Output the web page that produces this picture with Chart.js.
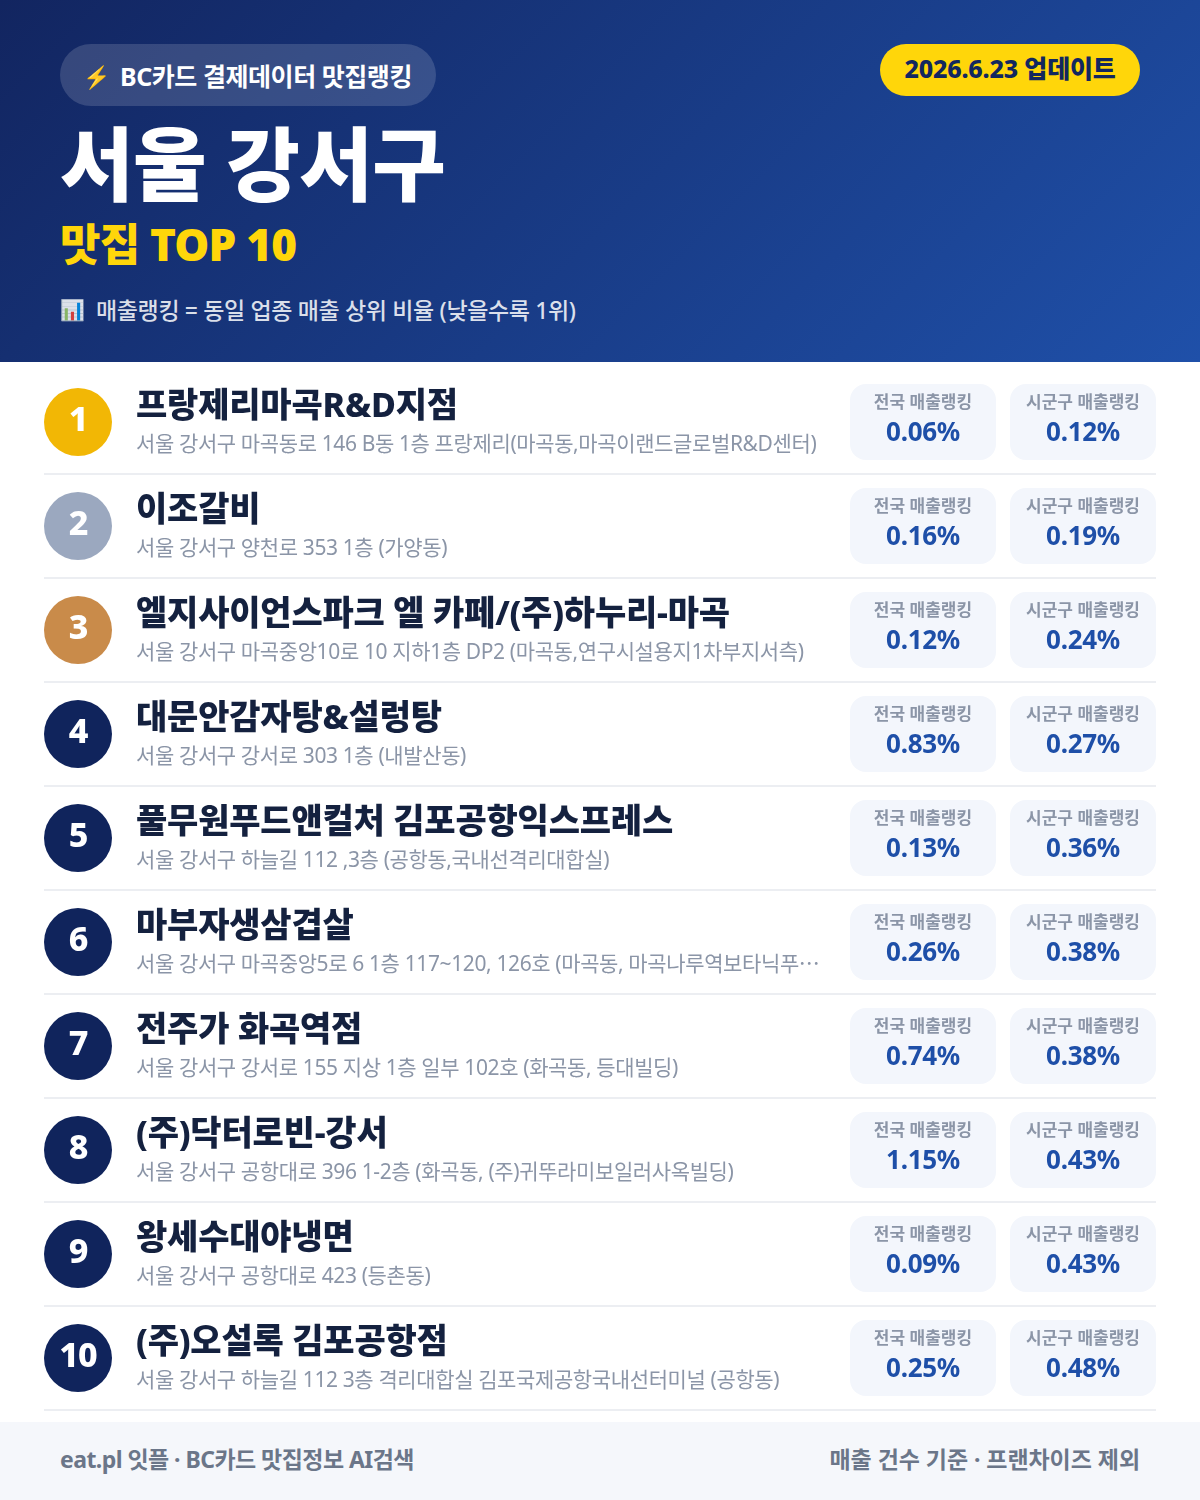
<!DOCTYPE html>
<html lang="ko">
<head>
<meta charset="utf-8">
<title>서울 강서구 맛집 TOP 10</title>
<script src="https://cdn.jsdelivr.net/npm/chart.js@4"></script>
<style>
  * { box-sizing: border-box; }
  html, body { margin: 0; background: #fff; }
  body { width: 1200px; height: 1500px; position: relative; overflow: hidden; font-family: "Noto Sans", "Noto Sans CJK KR", sans-serif; }
  header { position: absolute; left: 0; top: 0; width: 1200px; height: 362px; background: linear-gradient(135deg, #122560 0%, #1f50a9 100%); }
  header div { position: absolute; white-space: nowrap; }
  .badge { left: 60px; top: 44px; width: 376px; height: 62px; border-radius: 31px; background: rgba(255,255,255,.15); color: #fff; font-size: 25px; font-weight: 700; line-height: 64px; letter-spacing: -.45px; }
  .badge span { position: absolute; white-space: nowrap; }
  .date { left: 880px; top: 44px; width: 260px; height: 52px; border-radius: 26px; background: #ffd60a; color: #12275f; font-size: 25px; font-weight: 800; line-height: 48px; text-align: center; letter-spacing: -.2px; }
  .title { left: 60px; top: 103px; color: #fff; font-size: 80px; font-weight: 900; line-height: 120px; letter-spacing: -.6px; }
  .sub { left: 60px; top: 212px; color: #ffd60a; font-size: 44px; font-weight: 900; line-height: 64px; letter-spacing: -.8px; }
  .note { left: 60px; top: 292px; color: rgba(255,255,255,.85); font-size: 23px; font-weight: 500; line-height: 36px; letter-spacing: -.35px; }
  .note span { position: absolute; white-space: nowrap; }
  #list { position: absolute; left: 0; top: 362px; width: 1200px; height: 1060px; }
  footer { position: absolute; left: 0; top: 1422px; width: 1200px; height: 78px; background: #f5f7fb; color: #6b7689; font-size: 23px; font-weight: 700; line-height: 74px; }
  footer span { position: absolute; white-space: nowrap; }
</style>
</head>
<body>
<header>
  <div class="badge"><span style="left:23px;font-size:22px">⚡</span><span style="left:60px">BC카드 결제데이터 맛집랭킹</span></div>
  <div class="date">2026.6.23 업데이트</div>
  <div class="title">서울 강서구</div>
  <div class="sub">맛집 TOP 10</div>
  <div class="note"><span style="left:0;font-size:20px">📊</span><span style="left:36px">매출랭킹 = 동일 업종 매출 상위 비율 (낮을수록 1위)</span></div>
</header>
<div id="list"><canvas id="chart" width="1200" height="1060"></canvas></div>
<footer>
  <span style="left:60px;letter-spacing:-.55px">eat.pl 잇플 · BC카드 맛집정보 AI검색</span>
  <span style="right:60px;letter-spacing:-.05px">매출 건수 기준 · 프랜차이즈 제외</span>
</footer>
<script>
const ranks = ['1', '2', '3', '4', '5', '6', '7', '8', '9', '10'];
const names = [
  '프랑제리마곡R&D지점',
  '이조갈비',
  '엘지사이언스파크 엘 카페/(주)하누리-마곡',
  '대문안감자탕&설렁탕',
  '풀무원푸드앤컬처 김포공항익스프레스',
  '마부자생삼겹살',
  '전주가 화곡역점',
  '(주)닥터로빈-강서',
  '왕세수대야냉면',
  '(주)오설록 김포공항점'
];
const addresses = [
  '서울 강서구 마곡동로 146 B동 1층 프랑제리(마곡동,마곡이랜드글로벌R&D센터)',
  '서울 강서구 양천로 353 1층 (가양동)',
  '서울 강서구 마곡중앙10로 10 지하1층 DP2 (마곡동,연구시설용지1차부지서측)',
  '서울 강서구 강서로 303 1층 (내발산동)',
  '서울 강서구 하늘길 112 ,3층 (공항동,국내선격리대합실)',
  '서울 강서구 마곡중앙5로 6 1층 117~120, 126호 (마곡동, 마곡나루역보타닉푸…',
  '서울 강서구 강서로 155 지상 1층 일부 102호 (화곡동, 등대빌딩)',
  '서울 강서구 공항대로 396 1-2층 (화곡동, (주)귀뚜라미보일러사옥빌딩)',
  '서울 강서구 공항대로 423 (등촌동)',
  '서울 강서구 하늘길 112 3층 격리대합실 김포국제공항국내선터미널 (공항동)'
];
const nationalRank = [0.06, 0.16, 0.12, 0.83, 0.13, 0.26, 0.74, 1.15, 0.09, 0.25];
const districtRank = [0.12, 0.19, 0.24, 0.27, 0.36, 0.38, 0.38, 0.43, 0.43, 0.48];

const FONT = '"Noto Sans", "Noto Sans CJK KR", sans-serif';
// x axis runs in page columns, the row layout hangs off these
const COL = { rank: 78, text: 136, national: 923, district: 1083 };
const medal = ['#f2b705', '#9ba8bf', '#c98b4a'];

// rounded card used as the point image for both rank columns
function cardImage() {
  const c = document.createElement('canvas');
  c.width = 146;
  c.height = 76;
  const g = c.getContext('2d');
  g.fillStyle = '#f3f6fc';
  g.beginPath();
  g.roundRect(0, 0, 146, 76, 16);
  g.fill();
  return c;
}
const card = cardImage();

function put(ctx, text, x, y, font, color, align, spacing) {
  ctx.font = font;
  ctx.fillStyle = color;
  ctx.textAlign = align;
  ctx.textBaseline = 'alphabetic';
  ctx.letterSpacing = spacing;
  ctx.fillText(text, x, y);
}

// the CJK font has the centred ellipsis, Noto Sans sits it on the baseline
function putAddress(ctx, text, x, y) {
  const cut = text.endsWith('…');
  const body = cut ? text.slice(0, -1) : text;
  put(ctx, body, x, y, '400 21px ' + FONT, '#8b95a7', 'left', '-0.38px');
  if (cut) {
    const w = ctx.measureText(body).width;
    put(ctx, '…', x + w, y, '400 21px "Noto Sans CJK KR"', '#8b95a7', 'left', '0px');
  }
}

const rowText = {
  id: 'rowText',
  afterDatasetsDraw(chart) {
    const ctx = chart.ctx;
    const y = chart.scales.y;
    const x = chart.scales.x;
    ctx.save();
    ranks.forEach((r, i) => {
      const cy = y.getPixelForValue(r);
      put(ctx, r, x.getPixelForValue(COL.rank), cy + 9, '800 34px ' + FONT, '#fff', 'center', '-1px');
      put(ctx, names[i], x.getPixelForValue(COL.text), cy - 5, '800 34px ' + FONT, '#14213f', 'left', '-0.2px');
      putAddress(ctx, addresses[i], x.getPixelForValue(COL.text), cy + 29);
      [[COL.national, nationalRank[i], '전국 매출랭킹'], [COL.district, districtRank[i], '시군구 매출랭킹']].forEach(([col, v, label]) => {
        const px = x.getPixelForValue(col);
        put(ctx, label, px, cy - 14, '700 17px ' + FONT, '#8b95a7', 'center', '0px');
        put(ctx, v.toFixed(2) + '%', px, cy + 19, '700 26px ' + FONT, '#1e4fa8', 'center', '-0.3px');
      });
    });
    ctx.restore();
  }
};

new Chart(document.getElementById('chart'), {
  type: 'scatter',
  data: {
    datasets: [
      {
        label: '전국 매출랭킹',
        data: ranks.map((r) => ({ x: COL.national, y: r })),
        pointStyle: card,
        pointRadius: 40
      },
      {
        label: '시군구 매출랭킹',
        data: ranks.map((r) => ({ x: COL.district, y: r })),
        pointStyle: card,
        pointRadius: 40
      },
      {
        label: '순위',
        data: ranks.map((r) => ({ x: COL.rank, y: r })),
        pointRadius: 34,
        pointBorderWidth: 0,
        pointBackgroundColor: ranks.map((r, i) => medal[i] || '#10245c')
      }
    ]
  },
  options: {
    responsive: false,
    animation: false,
    events: [],
    layout: { autoPadding: false, padding: { left: 44, right: 44, top: 8, bottom: 12 } },
    plugins: { legend: { display: false }, tooltip: { enabled: false } },
    scales: {
      x: { type: 'linear', display: false, min: 44, max: 1156 },
      y: {
        type: 'category',
        labels: ranks,
        offset: true,
        border: { display: false },
        ticks: { display: false },
        afterFit(scale) { scale.width = 0; },
        grid: {
          offset: true,
          drawTicks: false,
          lineWidth: 2,
          color: (c) => (c.index === 0 ? 'transparent' : '#eceef2')
        }
      }
    }
  },
  plugins: [rowText]
});
</script>
</body>
</html>
